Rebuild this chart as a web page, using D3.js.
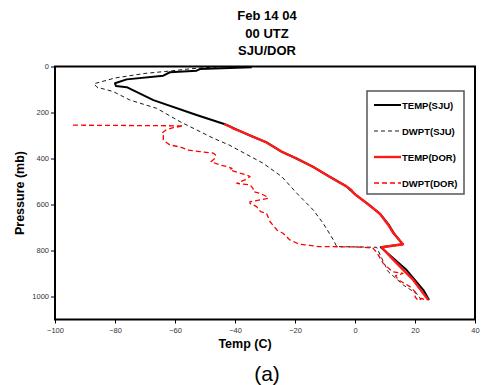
<!DOCTYPE html>
<html>
<head>
<meta charset="utf-8">
<script src="https://d3js.org/d3.v7.min.js"></script>
<style>
body { margin: 0; background: #fff; }
svg { font-family: Arial, "Liberation Sans", sans-serif; }
</style>
</head>
<body>
<script>
// [pressure mb, temp C]
var sjuTemp = [[3,-34.4],[11,-51.7],[18,-52.8],[25,-61.7],[40,-63.9],[56,-76.1],[73,-80],[85,-79.7],
  [90,-76.1],[146,-67.2],[211,-52.8],[250,-43.6],[262,-41.5],[280,-38.5],[300,-35],[330,-29.5],
  [370,-24.5],[400,-19.5],[436,-14],[479,-8.5],[520,-3],[559,0.3],[600,4.5],[640,8.3],[689,11.3],
  [725,13],[773,15.9],[786,8.6],[885,17.2],[972,22.8],[1015,24.7]]

var sjuDwpt = [[2,-46],[10,-55],[20,-62],[30,-70],[50,-80],[75,-87],[90,-86],[109,-80.6],[146,-75],
  [182,-66.1],[240,-58.3],[312,-47.2],[341,-42],[421,-30.6],[479,-24.4],[551,-19.4],[624,-13.9],
  [682,-10.6],[754,-7.2],[783,-6.1],[786,7.2],[850,9.5],[892,11.1],[950,16.1],[993,21.1],[1015,22]]

var dorTemp = [[250,-43.6],[262,-41.5],[270,-40.5],[280,-38.5],[300,-35],[330,-29.5],[370,-24.5],
  [400,-19.5],[436,-14],[479,-8.5],[520,-3],[537,-1.2],[545,-0.8],[559,0.3],[600,4.5],[640,8.3],
  [689,11.1],[725,12.8],[773,16],[786,8.9],[830,12],[870,15],[928,19.4],[970,21.8],[1015,24.4]]

var dorDwpt = [[255,-94],[258,-57.2],[266,-60.6],[276,-63],[290,-64.4],[300,-63.9],[320,-63.9],
  [334,-62.5],[341,-61.7],[350,-58.3],[356,-57],[363,-56],[370,-51.7],[377,-47.2],[385,-46.5],
  [399,-46.7],[414,-48],[428,-45],[436,-42.5],[443,-41],[450,-41.7],[464,-38.3],[472,-36],[479,-35],
  [493,-36.7],[500,-38],[508,-39.4],[515,-35],[530,-34],[544,-33.9],[551,-31.7],[566,-29.4],
  [573,-28.9],[588,-35],[595,-35],[609,-32.8],[631,-31.5],[638,-29.5],[675,-28.3],[711,-26],
  [725,-24],[754,-21.7],[773,-18.5],[778,-15],[783,-12],[784,-4],[785,2],[790,6],[805,7],[820,7.8],
  [856,9.4],[870,10.6],[892,12.5],[899,16],[910,13.5],[928,14.5],[957,18.3],[986,20.5],[1001,20],
  [1018,21.1],[1008,22.2],[1015,23.5]]

var seriesNames = ['TEMP(SJU)', 'DWPT(SJU)', 'TEMP(DOR)', 'DWPT(DOR)']
var titleLines = ['Feb 14 04', '00 UTZ', 'SJU/DOR']
var xTicks = [-100, -80, -60, -40, -20, 0, 20, 40]
var yTicks = [0, 200, 400, 600, 800, 1000]

var series = [
  {name: seriesNames[0], data: sjuTemp, color: 'black', width: 2, dash: null},
  {name: seriesNames[1], data: sjuDwpt, color: 'black', width: 0.9, dash: '4,3'},
  {name: seriesNames[2], data: dorTemp, color: '#ff1a1a', width: 2.4, dash: null},
  {name: seriesNames[3], data: dorDwpt, color: '#ff0000', width: 1.3, dash: '5,3'}
]

var svg = d3.select('body').append('svg')
  .attr('width', 481).attr('height', 385)

var x = d3.scaleLinear().domain([-100, 40]).range([55, 475])
var y = d3.scaleLinear().domain([0, 1100]).range([66.5, 319.5])

//title
svg.append('g').selectAll('text')
  .data(titleLines).enter().append('text')
  .attr('x', 267)
  .attr('y', function(d, i){ return 20 + i * 17.5 })
  .attr('text-anchor', 'middle')
  .style('font-size', '13px').style('font-weight', 'bold')
  .text(function(d){ return d })

//axes
var fmt = d3.format('d')
svg.append('g')
  .attr('transform', 'translate(55,0)')
  .call(d3.axisLeft(y).tickValues(yTicks).tickFormat(fmt).tickSize(4).tickPadding(2).tickSizeOuter(0))
svg.append('g')
  .attr('transform', 'translate(0,319.5)')
  .call(d3.axisBottom(x).tickValues(xTicks).tickFormat(fmt).tickSize(4).tickPadding(4).tickSizeOuter(0))
svg.selectAll('.tick text').style('font-size', '7.5px').style('fill', '#333')
  .style('font-family', 'Arial, "Liberation Sans", sans-serif')
svg.selectAll('.domain').remove()

//frame
svg.append('rect')
  .attr('x', 55).attr('y', 66.5).attr('width', 420).attr('height', 253)
  .style('fill', 'none').style('stroke', 'black').style('stroke-width', 2)

//lines
var line = d3.line()
  .x(function(d){ return x(d[1]) })
  .y(function(d){ return y(d[0]) })

svg.append('g').selectAll('path')
  .data(series).enter().append('path')
  .attr('d', function(d){ return line(d.data) })
  .style('fill', 'none')
  .style('stroke', function(d){ return d.color })
  .style('stroke-width', function(d){ return d.width })
  .style('stroke-dasharray', function(d){ return d.dash })
  .style('stroke-linejoin', 'round')

//legend
var legend = svg.append('g')
legend.append('rect')
  .attr('x', 367).attr('y', 91).attr('width', 97).attr('height', 103)
  .style('fill', 'white').style('stroke', '#555').style('stroke-width', 1.5)
var items = legend.selectAll('g.item')
  .data(series).enter().append('g')
  .attr('transform', function(d, i){ return 'translate(374,' + (105 + i * 26) + ')' })
items.append('line')
  .attr('x1', 0).attr('x2', 27).attr('y1', 0).attr('y2', 0)
  .style('stroke', function(d){ return d.color })
  .style('stroke-width', function(d){ return d.width })
  .style('stroke-dasharray', function(d){ return d.dash })
items.append('text')
  .attr('x', 28).attr('y', 3.5)
  .style('font-size', '9.5px').style('font-weight', 'bold')
  .text(function(d){ return d.name })

//axis labels
svg.append('text')
  .attr('transform', 'translate(24,193) rotate(-90)')
  .attr('text-anchor', 'middle')
  .style('font-size', '12.5px').style('font-weight', 'bold')
  .text('Pressure (mb)')
svg.append('text')
  .attr('x', 245).attr('y', 348)
  .attr('text-anchor', 'middle')
  .style('font-size', '12.5px').style('font-weight', 'bold')
  .text('Temp (C)')
svg.append('text')
  .attr('x', 267).attr('y', 381)
  .attr('text-anchor', 'middle')
  .style('font-size', '21px')
  .text('(a)')
</script>
</body>
</html>
